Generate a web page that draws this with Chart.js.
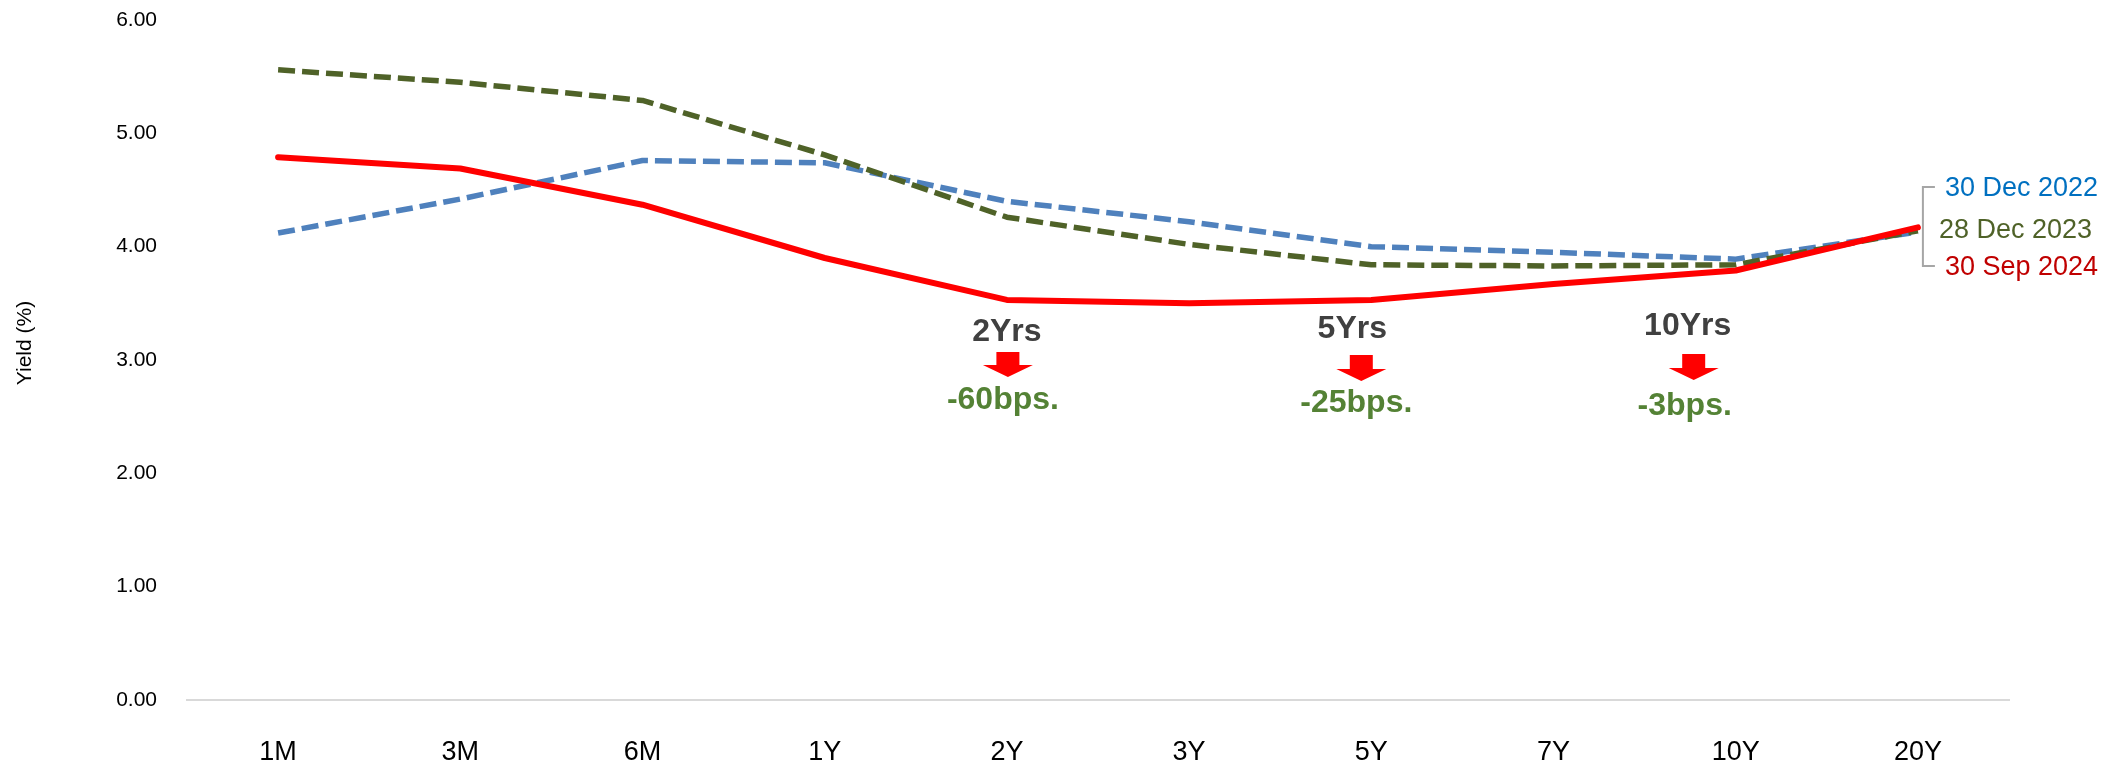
<!DOCTYPE html>
<html>
<head>
<meta charset="utf-8">
<script src="https://cdn.jsdelivr.net/npm/chart.js@4.4.1/dist/chart.umd.min.js"></script>
<style>
  html, body { margin: 0; padding: 0; background: #ffffff; }
  canvas { display: block; }
</style>
</head>
<body>
<canvas id="curve" width="2120" height="767"></canvas>
<script>
// Yield curve by tenor (%)
const tenors = ['1M', '3M', '6M', '1Y', '2Y', '3Y', '5Y', '7Y', '10Y', '20Y'];
const yieldDec2022 = [4.12, 4.42, 4.76, 4.74, 4.40, 4.22, 4.00, 3.95, 3.89, 4.13];
const yieldDec2023 = [5.56, 5.45, 5.29, 4.81, 4.26, 4.02, 3.84, 3.83, 3.84, 4.14];
const yieldSep2024 = [4.79, 4.69, 4.37, 3.90, 3.53, 3.50, 3.53, 3.67, 3.79, 4.17];
const seriesNames = ['30 Dec 2022', '28 Dec 2023', '30 Sep 2024'];
const yTicks = [0, 1, 2, 3, 4, 5, 6];

// Callouts under selected tenors
const calloutTenors = ['2Y', '5Y', '10Y'];
const calloutTitles = ['2Yrs', '5Yrs', '10Yrs'];
const calloutChanges = ['-60bps.', '-25bps.', '-3bps.'];

const FONT = '"Liberation Sans", Arial, Helvetica, sans-serif';
const COLORS = {
  dec2022: '#4F81BD',
  dec2023: '#4F6228',
  sep2024: '#FF0000',
  label2022: '#0070C0',
  label2023: '#4F6228',
  label2024: '#C00000',
  callTitle: '#404040',
  callChange: '#548235',
  arrow: '#FF0000',
  bracket: '#A6A6A6',
  axis: '#D9D9D9'
};

// Layout of each callout relative to its tenor's x pixel: [dx, y]
const calloutLayout = [
  { title: [0, 332],   arrow: [1, 352, 377],   change: [-4, 400] },
  { title: [-19, 329], arrow: [-10, 355, 381], change: [-15, 403] },
  { title: [-48, 326], arrow: [-42, 354, 380], change: [-51, 406] }
];

function drawArrow(ctx, cx, top, bottom) {
  const shaftHalf = 11.5, headHalf = 25, headH = 12;
  const headTop = bottom - headH;
  ctx.beginPath();
  ctx.moveTo(cx - shaftHalf, top);
  ctx.lineTo(cx + shaftHalf, top);
  ctx.lineTo(cx + shaftHalf, headTop);
  ctx.lineTo(cx + headHalf, headTop);
  ctx.lineTo(cx, bottom);
  ctx.lineTo(cx - headHalf, headTop);
  ctx.lineTo(cx - shaftHalf, headTop);
  ctx.closePath();
  ctx.fillStyle = COLORS.arrow;
  ctx.fill();
}

const overlayPlugin = {
  id: 'curveOverlay',
  afterDraw(chart) {
    const ctx = chart.ctx;
    const x = chart.scales.x;
    ctx.save();

    // Y axis title
    ctx.save();
    ctx.translate(25, 343);
    ctx.rotate(-Math.PI / 2);
    ctx.fillStyle = '#000000';
    ctx.font = '21px ' + FONT;
    ctx.textAlign = 'center';
    ctx.textBaseline = 'middle';
    ctx.fillText('Yield (%)', 0, 0);
    ctx.restore();

    // Tenor callouts
    calloutTenors.forEach((t, i) => {
      const px = x.getPixelForValue(tenors.indexOf(t));
      const lay = calloutLayout[i];
      ctx.textAlign = 'center';
      ctx.textBaseline = 'middle';
      ctx.font = 'bold 32px ' + FONT;
      ctx.fillStyle = COLORS.callTitle;
      ctx.fillText(calloutTitles[i], px + lay.title[0], lay.title[1]);
      drawArrow(ctx, px + lay.arrow[0], lay.arrow[1], lay.arrow[2]);
      ctx.font = 'bold 32px ' + FONT;
      ctx.fillStyle = COLORS.callChange;
      ctx.fillText(calloutChanges[i], px + lay.change[0], lay.change[1]);
    });

    // Series labels with bracket at the long end
    const endX = x.getPixelForValue(tenors.length - 1);
    const bx = endX + 5;
    ctx.strokeStyle = COLORS.bracket;
    ctx.lineWidth = 2;
    ctx.beginPath();
    ctx.moveTo(bx + 12, 187);
    ctx.lineTo(bx, 187);
    ctx.lineTo(bx, 266);
    ctx.lineTo(bx + 12, 266);
    ctx.stroke();

    ctx.font = '27px ' + FONT;
    ctx.textAlign = 'left';
    ctx.textBaseline = 'middle';
    ctx.fillStyle = COLORS.label2022;
    ctx.fillText(seriesNames[0], endX + 27, 189);
    ctx.fillStyle = COLORS.label2023;
    ctx.fillText(seriesNames[1], endX + 21, 231);
    ctx.fillStyle = COLORS.label2024;
    ctx.fillText(seriesNames[2], endX + 27, 268);

    ctx.restore();
  }
};

const dashedStyle = {
  borderWidth: 5.5,
  borderDash: [17, 7],
  borderJoinStyle: 'round',
  borderCapStyle: 'butt',
  pointRadius: 0,
  tension: 0,
  fill: false
};

new Chart(document.getElementById('curve'), {
  type: 'line',
  data: {
    labels: tenors,
    datasets: [
      {
        label: seriesNames[2],
        data: yieldSep2024,
        borderColor: COLORS.sep2024,
        borderWidth: 6,
        borderJoinStyle: 'round',
        borderCapStyle: 'round',
        pointRadius: 0,
        tension: 0,
        fill: false
      },
      Object.assign({ label: seriesNames[1], data: yieldDec2023, borderColor: COLORS.dec2023 }, dashedStyle),
      Object.assign({ label: seriesNames[0], data: yieldDec2022, borderColor: COLORS.dec2022 }, dashedStyle)
    ]
  },
  options: {
    responsive: false,
    animation: false,
    devicePixelRatio: 1,
    layout: { padding: { left: 0, right: 111, top: 20, bottom: 0 } },
    plugins: {
      legend: { display: false },
      tooltip: { enabled: false }
    },
    scales: {
      x: {
        offset: true,
        grid: { display: false, drawTicks: false },
        border: { display: true, color: COLORS.axis, width: 2 },
        ticks: {
          color: '#000000',
          font: { family: FONT, size: 27 },
          padding: 36,
          maxRotation: 0,
          autoSkip: false
        },
        afterFit(scale) { scale.height = 67; }
      },
      y: {
        min: 0,
        max: 6,
        // invisible tick marks keep the labels clear of the plot area
        grid: {
          display: true,
          drawOnChartArea: false,
          drawTicks: true,
          tickLength: 30,
          color: 'rgba(0,0,0,0)'
        },
        border: { display: false },
        afterBuildTicks(scale) { scale.ticks = yTicks.map(v => ({ value: v })); },
        ticks: {
          color: '#000000',
          font: { family: FONT, size: 21 },
          padding: 0,
          callback: v => Number(v).toFixed(2)
        },
        afterFit(scale) { scale.width = 187; }
      }
    }
  },
  plugins: [overlayPlugin]
});
</script>
</body>
</html>
